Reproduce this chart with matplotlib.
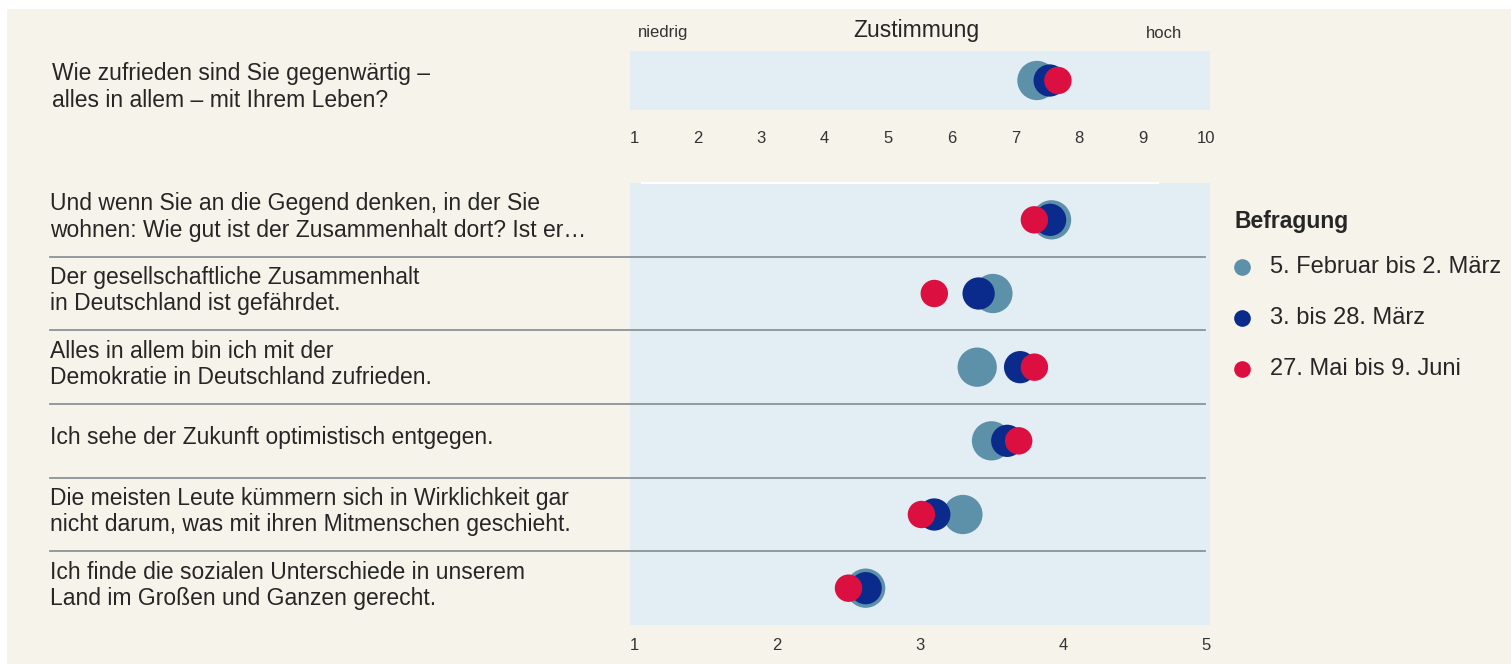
import matplotlib.pyplot as plt
import numpy as np

plt.rcParams["font.family"] = ["Liberation Sans", "DejaVu Sans"]

# data
top_question = "Wie zufrieden sind Sie gegenwärtig –\nalles in allem – mit Ihrem Leben?"
top_values = [7.34, 7.54, 7.67]   # Feb/Mär, März, Mai/Juni  (scale 1-10)

questions = [
    "Und wenn Sie an die Gegend denken, in der Sie\nwohnen: Wie gut ist der Zusammenhalt dort? Ist er…",
    "Der gesellschaftliche Zusammenhalt\nin Deutschland ist gefährdet.",
    "Alles in allem bin ich mit der\nDemokratie in Deutschland zufrieden.",
    "Ich sehe der Zukunft optimistisch entgegen.",
    "Die meisten Leute kümmern sich in Wirklichkeit gar\nnicht darum, was mit ihren Mitmenschen geschieht.",
    "Ich finde die sozialen Unterschiede in unserem\nLand im Großen und Ganzen gerecht.",
]
wave1 = [3.92, 3.51, 3.40, 3.50, 3.30, 2.62]   # 5. Februar bis 2. März
wave2 = [3.91, 3.41, 3.70, 3.61, 3.10, 2.62]   # 3. bis 28. März
wave3 = [3.80, 3.10, 3.80, 3.69, 3.01, 2.50]   # 27. Mai bis 9. Juni

waves = ["5. Februar bis 2. März", "3. bis 28. März", "27. Mai bis 9. Juni"]
colors = ["#5c91a9", "#0b2b8c", "#dc1040"]
sizes = [800, 540, 390]

bg = "#f5f3ea"
band = "#e3edf4"
txt = "#262626"
W, H = 1511, 664

fig = plt.figure(figsize=(W / 100, H / 100), dpi=100)
fig.patch.set_facecolor("white")
fig.patches.append(plt.Rectangle((7 / W, 0), 1, 1 - 9 / H, transform=fig.transFigure,
                                 facecolor=bg, edgecolor="none", zorder=-10))


def px_axes(x0, y0, x1, y1):
    return fig.add_axes([x0 / W, 1 - y1 / H, (x1 - x0) / W, (y1 - y0) / H])


# top panel (scale 1-10)
ax1 = px_axes(630, 51, 1210, 110)
ax1.set_facecolor(band)
ax1.set_xlim(1 - 4 * 9 / 572, 10 + 4 * 9 / 572)
ax1.set_ylim(-0.5, 0.5)
for v, c, s in zip(top_values, colors, sizes):
    ax1.scatter([v], [0], s=s, color=c, edgecolors="none", zorder=3)
ax1.set_xticks(range(1, 11))
ax1.set_yticks([])
ax1.tick_params(axis="x", length=0, pad=15, labelsize=12, labelcolor="#333333")
for sp in ax1.spines.values():
    sp.set_visible(False)
fig.text(52 / W, 1 - 87 / H, top_question, ha="left", va="center",
         fontsize=16.5, linespacing=1.18, color=txt)

fig.text(663 / W, 1 - 33 / H, "niedrig", ha="center", va="center", fontsize=12, color="#333333")
fig.text(916 / W, 1 - 30 / H, "Zustimmung", ha="center", va="center", fontsize=16.5, color=txt)
fig.text(1164 / W, 1 - 33 / H, "hoch", ha="center", va="center", fontsize=12, color="#333333")

# bottom panel (scale 1-5)
ax2 = px_axes(630, 183, 1210, 625)
ax2.set_facecolor(band)
ax2.set_xlim(1 - 4 * 4 / 572, 5 + 4 * 4 / 572)
ax2.set_ylim(len(questions) - 0.5, -0.5)
y = np.arange(len(questions))
for vals, c, s, lab in zip([wave1, wave2, wave3], colors, sizes, waves):
    ax2.scatter(vals, y, s=s, color=c, edgecolors="none", zorder=3, label=lab)
for b in np.arange(0.5, len(questions) - 0.5, 1):
    ax2.plot([-1.0, 0.991], [b, b], transform=ax2.get_yaxis_transform(), color="#8c9299",
             lw=1.3, clip_on=False, zorder=2)
ax2.plot([0.02, 0.91], [-0.5, -0.5], transform=ax2.get_yaxis_transform(), color="white",
         lw=1.5, clip_on=False, zorder=2)
ax2.set_xticks(range(1, 6))
ax2.set_yticks([])
ax2.tick_params(axis="x", length=0, pad=9, labelsize=12, labelcolor="#333333")
for sp in ax2.spines.values():
    sp.set_visible(False)
for i, q in enumerate(questions):
    ax2.text(-1.0, i - 0.04, q, transform=ax2.get_yaxis_transform(), ha="left", va="center",
             fontsize=16.5, linespacing=1.18, color=txt)

# legend
fig.text(1234 / W, 1 - 222 / H, "Befragung", ha="left", va="center", fontsize=16.5,
         fontweight="bold", color=txt)
leg_y = [267, 318, 369]
for ly, c, lab in zip(leg_y, colors, waves):
    fig.add_artist(plt.Line2D([1242 / W], [1 - ly / H], marker="o", markersize=12,
                              color=c, markeredgecolor="none", transform=fig.transFigure))
    fig.text(1270 / W, 1 - ly / H, lab, ha="left", va="center", fontsize=17, color=txt)

fig.savefig("out.png", dpi=100, facecolor=fig.get_facecolor())
